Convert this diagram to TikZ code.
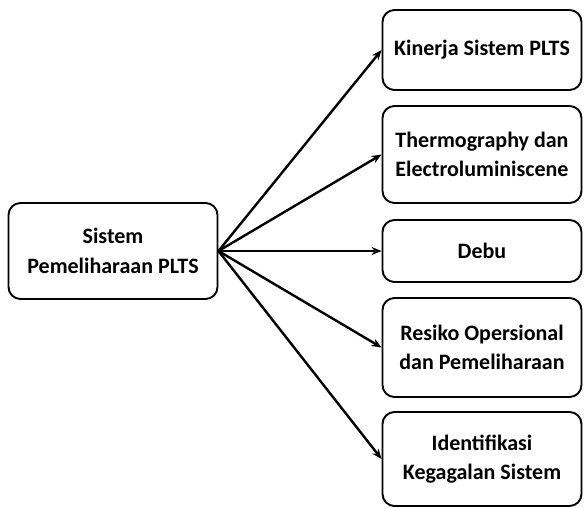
\documentclass[tikz,border=0pt]{standalone}
\usepackage{fontspec}
\setmainfont{Carlito}
\usetikzlibrary{arrows.meta}

\tikzset{
  itembox/.style={draw=black, line width=1.9pt, fill=white, rounded corners=12pt,
    align=center, inner sep=0pt, font={\fontsize{22}{29.5}\selectfont\bfseries}},
  link/.style={line width=2.4pt, -{Stealth[length=10pt,width=8pt]}}
}

\begin{document}
\begin{tikzpicture}[x=1pt,y=-1pt]

\useasboundingbox (0,0) rectangle (584,507);

\node [itembox, minimum width=209pt, minimum height=96pt] (sistem) at (113,251)
{Sistem\\Pemeliharaan PLTS};

\node [itembox, minimum width=199pt, minimum height=80pt] (kinerja) at (482,50)
{Kinerja Sistem PLTS};
\node [itembox, minimum width=199pt, minimum height=97pt] (thermo) at (482,154.5)
{Thermography dan\\Electroluminiscene};
\node [itembox, minimum width=199pt, minimum height=62pt] (debu) at (482,251)
{Debu};
\node [itembox, minimum width=199pt, minimum height=99pt] (resiko) at (482,347.5)
{Resiko Opersional\\dan Pemeliharaan};
\node [itembox, minimum width=199pt, minimum height=94pt] (gagal) at (482,459)
{Identifikasi\\Kegagalan Sistem};

\foreach \t in {kinerja, thermo, debu, resiko, gagal}
  \draw [link] (sistem.east) -- (\t.west);

\end{tikzpicture}
\end{document}
